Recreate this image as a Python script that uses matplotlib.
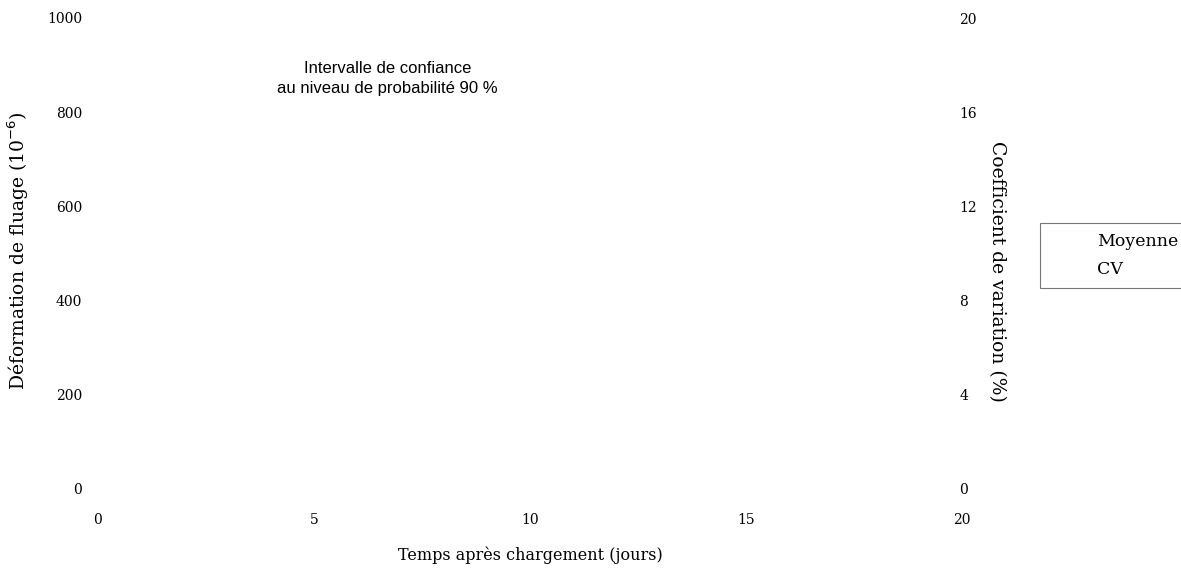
import numpy as np
import matplotlib.pyplot as plt

# axes graduations
jours = [0, 5, 10, 15, 20]
deformation_ticks = [0, 200, 400, 600, 800, 1000]
cv_ticks = [0, 4, 8, 12, 16, 20]

# series (no points recorded)
temps = []
moyenne = []
cv = []

plt.rcParams['font.family'] = ['DejaVu Serif']

fig = plt.figure(figsize=(11.81, 5.68), dpi=100)
ax = fig.add_axes([98 / 1181, 1 - 488 / 568, (962 - 98) / 1181, (488 - 18) / 568])
ax2 = ax.twinx()

l1, = ax.plot(temps, moyenne, color='none', label='Moyenne')
l2, = ax2.plot(temps, cv, color='none', label='CV')

ax.set_xlim(0, 20)
ax.set_ylim(0, 1000)
ax2.set_ylim(0, 20)
ax.set_xticks(jours)
ax.set_yticks(deformation_ticks)
ax2.set_yticks(cv_ticks)

for a in (ax, ax2):
    for s in a.spines.values():
        s.set_visible(False)

ax.tick_params(axis='x', length=0, pad=18, labelsize=10)
ax.tick_params(axis='y', length=0, pad=11.5, labelsize=10)
ax2.tick_params(axis='y', length=0, pad=-2, labelsize=10)

ax.set_xlabel('Temps après chargement (jours)', fontsize=11.5, labelpad=14)
ax.set_ylabel('Déformation de fluage (10$^{-6}$)', fontsize=13.5)
ax.yaxis.set_label_coords(-0.078, 0.505)
ax2.set_ylabel('Coefficient de variation (%)', fontsize=13.5, rotation=-90)
ax2.yaxis.set_label_coords(1.051, 0.46)

ax.text(6.7, 872, 'Intervalle de confiance\nau niveau de probabilité 90 %',
        ha='center', va='center', fontsize=12, family='Liberation Sans',
        linespacing=1.4)

leg = fig.legend(handles=[l1, l2], loc='upper left',
                 bbox_to_anchor=(1040 / 1181, 1 - 223 / 568),
                 frameon=True, fancybox=False, fontsize=12.5,
                 handlelength=1.9, borderpad=0.6, labelspacing=0.6,
                 borderaxespad=0)
leg.get_frame().set_edgecolor('#555555')
leg.get_frame().set_linewidth(0.8)

fig.savefig('out.png', dpi=100)
